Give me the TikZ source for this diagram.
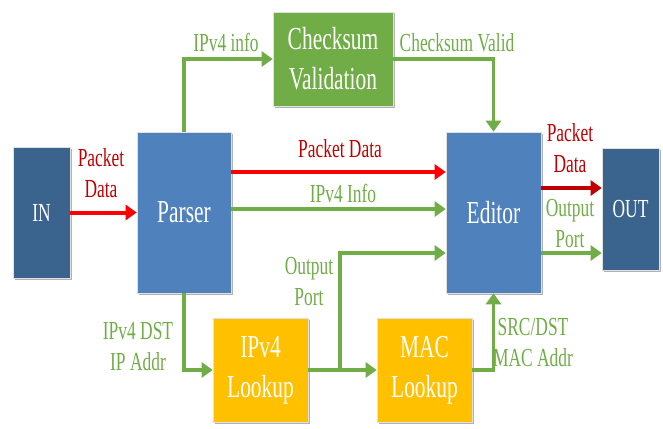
\documentclass[tikz,border=0pt]{standalone}
\usepackage{fontspec}
\setmainfont{Liberation Serif}
\newfontfamily\narrowserif[FakeStretch=0.67]{Liberation Serif}
\usetikzlibrary{arrows.meta,shadows}

\definecolor{portblue}{HTML}{3A638E}
\definecolor{stageblue}{HTML}{4F81BD}
\definecolor{checkgreen}{HTML}{70AD47}
\definecolor{lookupgold}{HTML}{FFC000}
\definecolor{datared}{HTML}{FF0000}
\definecolor{darkred}{HTML}{C00000}
\definecolor{labelgreen}{HTML}{70AD47}

\tikzset{
  block/.style={rectangle, draw=black!12, line width=0.6pt, text=white,
    align=center, inner sep=0pt,
    font=\narrowserif\fontsize{32}{40}\selectfont,
    drop shadow={shadow xshift=1.5pt, shadow yshift=-1.5pt, opacity=0.3, fill=black}},
  portbox/.style={block, fill=portblue, font=\narrowserif\fontsize{26}{30}\selectfont},
  stagebox/.style={block, fill=stageblue},
  checkbox/.style={block, fill=checkgreen},
  lookupbox/.style={block, fill=lookupgold},
  redflow/.style={draw=datared, line width=4pt,
    -{Triangle[length=11pt,width=15pt]}},
  darkflow/.style={draw=darkred, line width=4pt,
    -{Triangle[length=11pt,width=15pt]}},
  greenflow/.style={draw=checkgreen, line width=3.5pt,
    -{Triangle[length=11pt,width=15pt]}},
  % labels are placed by the baseline of their last line
  redlabel/.style={text=darkred, align=center, inner sep=0pt, anchor=base,
    font=\narrowserif\fontsize{26}{31}\selectfont},
  greenlabel/.style={redlabel, text=labelgreen},
}

\begin{document}
\begin{tikzpicture}[x=1pt, y=-1pt]
  \useasboundingbox (0,0) rectangle (663,428);

  % processing blocks
  \node[portbox, minimum width=57pt, minimum height=131pt] (in) at (41.5,212.5) {IN};
  \node[stagebox, minimum width=94pt, minimum height=161pt] (parser) at (184,212.5) {Parser};
  \node[stagebox, minimum width=95pt, minimum height=161pt] (editor) at (493.5,212.5) {Editor};
  \node[portbox, minimum width=57pt, minimum height=122pt] (out) at (630.5,209) {OUT};
  \node[checkbox, minimum width=120pt, minimum height=94pt] (check) at (333,59) {Checksum\\Validation};
  \node[lookupbox, minimum width=95pt, minimum height=104pt] (ipl) at (260.5,370) {IPv4\\Lookup};
  \node[lookupbox, minimum width=95pt, minimum height=104pt] (macl) at (424.5,370) {MAC\\Lookup};

  % helper levels for parallel buses
  \coordinate (pktrow) at (0,172);
  \coordinate (inforow) at (0,209);
  \coordinate (portrow) at (0,253);
  \coordinate (outpkt) at (0,188);
  \coordinate (split) at (340,370);

  % connections
  \draw[redflow] (in.east) -- (parser.west);
  \draw[redflow] (parser.east |- pktrow) -- (editor.west |- pktrow);
  \draw[greenflow] (parser.east |- inforow) -- (editor.west |- inforow);
  \draw[greenflow] (parser.north) |- (check.west);
  \draw[greenflow] (check.east) -| (editor.north);
  \draw[greenflow] (parser.south) |- (ipl.west);
  \draw[greenflow] (ipl.east) -- (macl.west);
  \draw[greenflow] (split) |- (editor.west |- portrow);
  \draw[greenflow] (macl.east) -| (editor.south);
  \draw[darkflow] (editor.east |- outpkt) -- (out.west |- outpkt);
  \draw[greenflow] (editor.east |- portrow) -- (out.west |- portrow);

  % signal labels
  \node[redlabel] (lblin) at (101,197) {Packet\\Data};
  \node[redlabel] (lblpkt) at (340,157) {Packet Data};
  \node[greenlabel] (lblinfo) at (343,202) {IPv4 Info};
  \node[greenlabel] (lblcs) at (226,52) {IPv4 info};
  \node[greenlabel] (lblvalid) at (457,52) {Checksum Valid};
  \node[greenlabel] (lbldst) at (138,370) {IPv4 DST\\IP Addr};
  \node[greenlabel] (lblport) at (309,305) {Output\\Port};
  \node[greenlabel] (lblmac) at (533,366) {SRC/DST\\MAC Addr};
  \node[redlabel] (lbloutpkt) at (570,172) {Packet\\Data};
  \node[greenlabel] (lbloutport) at (570,247) {Output\\Port};
\end{tikzpicture}
\end{document}
